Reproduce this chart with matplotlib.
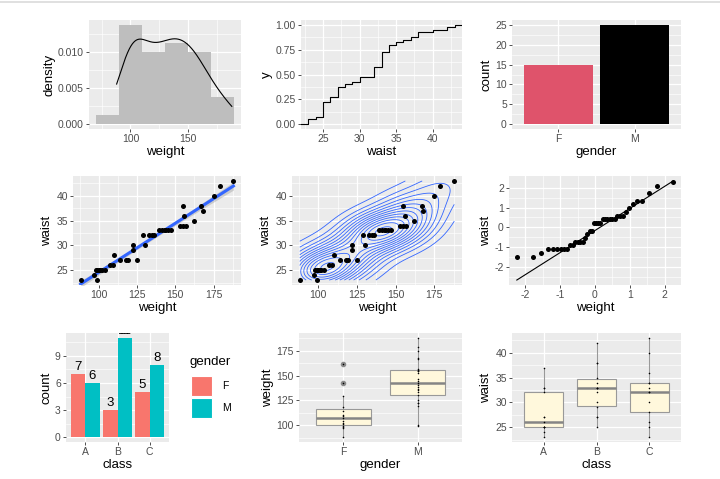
import numpy as np
import matplotlib
matplotlib.use("Agg")
import matplotlib.pyplot as plt
import matplotlib.transforms as mtransforms
from matplotlib.patches import Rectangle
from matplotlib.lines import Line2D
from statistics import NormalDist

plt.rcParams['font.family'] = ['Liberation Sans', 'DejaVu Sans']
plt.rcParams['axes.unicode_minus'] = False

weight = [88, 97, 98, 99, 101, 102, 104, 107, 109, 110, 114, 118, 129, 143, 162,
          99, 100, 119, 122, 122, 125, 130, 133, 135, 136, 139, 141, 143, 145, 147,
          153, 155, 155, 156, 157, 167, 168, 175, 179, 188]
waist = [23, 24, 25, 23, 25, 25, 25, 26, 26, 28, 27, 27, 32, 33, 35,
         25, 25, 27, 29, 30, 27, 30, 32, 32, 32, 33, 33, 33, 33, 33,
         34, 34, 38, 36, 34, 38, 37, 40, 42, 43]
gender = ['F'] * 15 + ['M'] * 25
klass = ['A', 'A', 'A', 'C', 'A', 'A', 'B', 'A', 'C', 'C', 'A', 'B', 'C', 'C', 'B',
         'A', 'C', 'A', 'B', 'B', 'B', 'C', 'A', 'B', 'C', 'A', 'A', 'B', 'B', 'B',
         'B', 'C', 'B', 'C', 'C', 'B', 'A', 'C', 'B', 'C']

genders = ['F', 'M']
classes = ['A', 'B', 'C']
hist_breaks = [70, 90, 110, 130, 150, 170, 190]

w = np.array(weight, dtype=float)
y = np.array(waist, dtype=float)
g = np.array(gender)
c = np.array(klass)
n = len(w)

W, H = 720, 479
fig = plt.figure(figsize=(W / 100, H / 100), dpi=100)
fig.add_artist(Line2D([0, 1], [1 - 2.2 / H] * 2, color='#DADADA', lw=1.2))


def panel(l, t, r, b):
    return fig.add_axes([l / W, 1 - b / H, (r - l) / W, (b - t) / H])


def gg(ax, xlabel, ylabel):
    ax.set_facecolor('#EBEBEB')
    for s in ax.spines.values():
        s.set_visible(False)
    ax.set_axisbelow(True)
    ax.grid(True, which='major', color='white', lw=0.9)
    ax.grid(True, which='minor', color='white', lw=0.45)
    ax.tick_params(which='major', length=2.2, width=0.6, color='#333333',
                   labelcolor='#4D4D4D', labelsize=7.5, pad=1.5)
    ax.tick_params(which='minor', length=0)
    ax.set_xlabel(xlabel, fontsize=9.5, labelpad=1.5)
    ax.set_ylabel(ylabel, fontsize=9.5, labelpad=2)


def expand(lo, hi, f=0.05):
    d = (hi - lo) * f
    return lo - d, hi + d


# ---- 1: histogram + density of weight
ax = panel(89, 20, 241, 129)
edges = np.array(hist_breaks, dtype=float)
idx = np.searchsorted(edges, w, side='left') - 1   # right-closed bins like ggplot
counts = np.bincount(idx, minlength=len(edges) - 1)
dens_bar = counts / (n * np.diff(edges))
ax.bar(edges[:-1], dens_bar, width=np.diff(edges), align='edge', color='#BEBEBE')
sd = w.std(ddof=1)
q1, q3 = np.percentile(w, [25, 75])
bw = 0.9 * min(sd, (q3 - q1) / 1.34) * n ** -0.2
xs = np.linspace(w.min(), w.max(), 512)
kde = np.exp(-0.5 * ((xs[:, None] - w[None, :]) / bw) ** 2).sum(1) / (n * bw * np.sqrt(2 * np.pi))
ax.plot(xs, kde, color='black', lw=0.8)
ax.set_xlim(*expand(edges[0], edges[-1]))
ax.set_ylim(*expand(0, dens_bar.max()))
ax.set_xticks([100, 150])
ax.set_xticks([75, 125, 175], minor=True)
ax.set_yticks([0, 0.005, 0.010])
ax.set_yticks([0.0025, 0.0075, 0.0125], minor=True)
ax.set_yticklabels(['0.000', '0.005', '0.010'])
gg(ax, 'weight', 'density')

# ---- 2: ecdf of waist
ax = panel(301, 20, 462, 129)
vals, cnt = np.unique(y, return_counts=True)
cum = np.cumsum(cnt) / n
xl = expand(y.min(), y.max())
ax.step(np.r_[xl[0], vals, xl[1]], np.r_[0, cum, 1], where='post', color='black', lw=0.8)
ax.set_xlim(*xl)
ax.set_ylim(*expand(0, 1))
ax.set_xticks([25, 30, 35, 40])
ax.set_xticks([22.5, 27.5, 32.5, 37.5, 42.5], minor=True)
ax.set_yticks([0, 0.25, 0.5, 0.75, 1])
ax.set_yticks([0.125, 0.375, 0.625, 0.875], minor=True)
ax.set_yticklabels(['0.00', '0.25', '0.50', '0.75', '1.00'])
gg(ax, 'waist', 'y')

# ---- 3: count by gender
ax = panel(512, 20, 681, 129)
gcount = [np.sum(g == k) for k in genders]
ax.bar(range(2), gcount, width=0.9, color=['#DF536B', 'black'])
ax.set_xlim(-0.6, 1.6)
ax.set_ylim(*expand(0, max(gcount)))
ax.set_xticks(range(2))
ax.set_xticklabels(genders)
ax.set_yticks([0, 5, 10, 15, 20, 25])
ax.set_yticks([2.5, 7.5, 12.5, 17.5, 22.5], minor=True)
gg(ax, 'gender', 'count')

# ---- 4: scatter + lm
ax = panel(73, 176, 241, 285)
slope, icpt = np.polyfit(w, y, 1)
xf = np.linspace(w.min(), w.max(), 80)
fit = icpt + slope * xf
resid = y - (icpt + slope * w)
s = np.sqrt((resid ** 2).sum() / (n - 2))
se = s * np.sqrt(1 / n + (xf - w.mean()) ** 2 / ((w - w.mean()) ** 2).sum())
t975 = 2.024  # t quantile, df = 38
ax.fill_between(xf, fit - t975 * se, fit + t975 * se, color='#999999', alpha=0.4, lw=0)
ax.plot(xf, fit, color='#3366FF', lw=2.2)
ax.scatter(w, y, s=13, color='black', zorder=3, lw=0)
ax.set_xlim(*expand(w.min(), w.max()))
ax.set_ylim(*expand(y.min(), y.max()))
ax.set_xticks([100, 125, 150, 175])
ax.set_xticks([87.5, 112.5, 137.5, 162.5, 187.5], minor=True)
ax.set_yticks([25, 30, 35, 40])
ax.set_yticks([22.5, 27.5, 32.5, 37.5, 42.5], minor=True)
gg(ax, 'weight', 'waist')

# ---- 5: 2d density contours
ax = panel(292, 176, 462, 285)


def bandwidth_nrd(v):
    a, b = np.percentile(v, [25, 75])
    return 4 * 1.06 * min(v.std(ddof=1), (b - a) / 1.34) * len(v) ** -0.2


gx = np.linspace(w.min(), w.max(), 100)
gy = np.linspace(y.min(), y.max(), 100)
hx, hy = bandwidth_nrd(w) / 4, bandwidth_nrd(y) / 4
kx = np.exp(-0.5 * ((gx[:, None] - w[None, :]) / hx) ** 2) / (hx * np.sqrt(2 * np.pi))
ky = np.exp(-0.5 * ((gy[:, None] - y[None, :]) / hy) ** 2) / (hy * np.sqrt(2 * np.pi))
z = kx @ ky.T / n
raw = z.max() / 10
mag = 10 ** np.floor(np.log10(raw))
step = next(m * mag for m in (1, 2, 5, 10) if m * mag >= raw * 0.7)
levels = np.arange(step, z.max(), step)
ax.contour(gx, gy, z.T, levels=levels, colors='#3366FF', linewidths=0.6)
ax.scatter(w, y, s=13, color='black', zorder=3, lw=0)
ax.set_xlim(*expand(w.min(), w.max()))
ax.set_ylim(*expand(y.min(), y.max()))
ax.set_xticks([100, 125, 150, 175])
ax.set_xticks([87.5, 112.5, 137.5, 162.5, 187.5], minor=True)
ax.set_yticks([25, 30, 35, 40])
ax.set_yticks([22.5, 27.5, 32.5, 37.5, 42.5], minor=True)
gg(ax, 'weight', 'waist')

# ---- 6: qq of scaled waist
ax = panel(509, 176, 681, 285)
zs = np.sort((y - y.mean()) / y.std(ddof=1))
nd = NormalDist()
theo = np.array([nd.inv_cdf((i - 0.5) / n) for i in range(1, n + 1)])
yq = np.percentile(zs, [25, 75])
xq = np.array([nd.inv_cdf(0.25), nd.inv_cdf(0.75)])
qs = (yq[1] - yq[0]) / (xq[1] - xq[0])
qi = yq[0] - qs * xq[0]
lx = np.array([theo.min(), theo.max()])
ax.plot(lx, qi + qs * lx, color='black', lw=0.8)
ax.scatter(theo, zs, s=13, color='black', zorder=3, lw=0)
ax.set_xlim(*expand(theo.min(), theo.max()))
ax.set_ylim(*expand(min(zs.min(), (qi + qs * lx).min()), max(zs.max(), (qi + qs * lx).max())))
ax.set_xticks([-2, -1, 0, 1, 2])
ax.set_xticks([-1.5, -0.5, 0.5, 1.5], minor=True)
ax.set_yticks([-2, -1, 0, 1, 2])
ax.set_yticks([-2.5, -1.5, -0.5, 0.5, 1.5], minor=True)
gg(ax, 'weight', 'waist')

# ---- 7: count by class, dodged by gender
ax = panel(66, 333, 169, 442)
fills = {'F': '#F8766D', 'M': '#00BFC4'}
ymax = 0
lab_tr = mtransforms.offset_copy(ax.transData, fig=fig, y=3.0, units='points')
for j, k in enumerate(genders):
    cc = [np.sum((c == cl) & (g == k)) for cl in classes]
    ymax = max(ymax, max(cc))
    xpos = np.arange(3) - 0.225 + 0.45 * j
    ax.bar(xpos, cc, width=0.45, color=fills[k])
    for xp, v in zip(xpos, cc):
        ax.text(xp, v, str(v), transform=lab_tr, ha='center', va='baseline',
                fontsize=9.5, clip_on=True)
ax.set_xlim(-0.6, 2.6)
ax.set_ylim(*expand(0, ymax))
ax.set_xticks(range(3))
ax.set_xticklabels(classes)
ax.set_yticks([0, 3, 6, 9])
ax.set_yticks([1.5, 4.5, 7.5, 10.5], minor=True)
gg(ax, 'class', 'count')

# legend
fig.text(190 / W, 1 - 362 / H, 'gender', fontsize=9.5, va='center', ha='left')
for i, k in enumerate(genders):
    top = 376 + i * 22
    fig.add_artist(Rectangle((191 / W, 1 - (top + 20) / H), 21 / W, 20 / H,
                             transform=fig.transFigure, facecolor=fills[k],
                             edgecolor='white', lw=0.8))
    fig.text(222 / W, 1 - (top + 10) / H, k, fontsize=7.5, va='center', ha='left')


# ---- 8/9: boxplots
def box(ax, data, lab, cats):
    groups = [data[lab == cat] for cat in cats]
    ax.boxplot(groups, positions=range(len(cats)), widths=0.75, patch_artist=True,
               boxprops=dict(facecolor='#FFF8DC', edgecolor='#999999', lw=0.8),
               medianprops=dict(color='#858585', lw=1.8),
               whiskerprops=dict(color='#999999', lw=0.8),
               capprops=dict(lw=0),
               flierprops=dict(marker='o', markerfacecolor='#8C8C8C',
                               markeredgecolor='#8C8C8C', markersize=3))
    for i, gr in enumerate(groups):
        ax.scatter(np.full(len(gr), i), gr, s=1.3, color='black', zorder=4, lw=0)
    ax.set_xlim(-0.6, len(cats) - 0.4)
    ax.set_xticks(range(len(cats)))
    ax.set_xticklabels(cats)
    ax.set_ylim(*expand(data.min(), data.max()))


ax = panel(299, 333, 462, 442)
box(ax, w, g, genders)
ax.set_yticks([100, 125, 150, 175])
ax.set_yticks([87.5, 112.5, 137.5, 162.5, 187.5], minor=True)
gg(ax, 'gender', 'weight')

ax = panel(512, 333, 681, 442)
box(ax, y, c, classes)
ax.set_yticks([25, 30, 35, 40])
ax.set_yticks([22.5, 27.5, 32.5, 37.5, 42.5], minor=True)
gg(ax, 'class', 'waist')

fig.savefig('out.png', dpi=100)
